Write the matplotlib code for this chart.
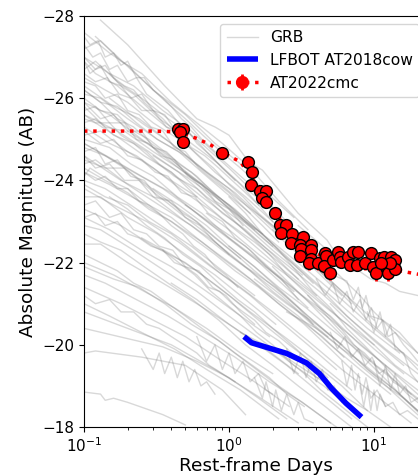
import numpy as np
import matplotlib
matplotlib.use("Agg")
import matplotlib.pyplot as plt

# ---------------- data ----------------
# GRB afterglow light curves (rest-frame days, absolute AB mag)
grb_times = [
    [0.13, 0.2, 0.36, 0.6, 0.8, 1.0, 1.37, 1.7, 3.0, 4.74, 6.0],
    [0.1, 0.15, 0.2, 0.3, 0.5, 0.8, 1.2],
    [0.1, 0.13, 0.18, 0.25, 0.4, 0.6, 0.9, 1.4, 2.2, 3.5],
    [0.1, 0.15, 0.22, 0.35, 0.55, 0.9, 1.5, 2.5],
    [0.1, 0.12, 0.17, 0.25, 0.38, 0.6, 1.0, 1.6, 3.0, 5.0, 8.0],
    [0.1, 0.14, 0.2, 0.3, 0.5, 0.8, 1.3, 2.0],
    [0.1, 0.16, 0.24, 0.4, 0.7, 1.1, 1.8, 3.0, 5.0],
    [0.1, 0.13, 0.2, 0.32, 0.5, 0.75, 1.2, 2.0, 3.5, 6.0, 10.0],
    [0.1, 0.15, 0.25, 0.4, 0.6, 1.0, 1.7],
    [0.1, 0.14, 0.19, 0.3, 0.45, 0.7, 1.1, 1.8, 3.0, 5.0, 9.0, 15.0],
    [0.1, 0.17, 0.28, 0.45, 0.7, 1.2, 2.0, 3.2],
    [0.1, 0.12, 0.18, 0.26, 0.4, 0.65, 1.0, 1.6, 2.6, 4.2, 7.0, 12.0, 20.0],
    [0.1, 0.15, 0.23, 0.36, 0.6, 0.95, 1.5, 2.4, 4.0],
    [0.1, 0.13, 0.2, 0.3, 0.5, 0.8, 1.3, 2.2, 3.6, 6.0, 10.0],
    [0.1, 0.16, 0.25, 0.4, 0.65, 1.0, 1.7, 2.8],
    [0.1, 0.14, 0.22, 0.35, 0.55, 0.9, 1.5, 2.5, 4.0, 7.0, 12.0, 20.0],
    [0.1, 0.18, 0.3, 0.5, 0.8, 1.3, 2.1, 3.5, 6.0],
    [0.1, 0.12, 0.2, 0.33, 0.55, 0.9, 1.4, 2.3, 3.8],
    [0.1, 0.15, 0.24, 0.4, 0.65, 1.1, 1.8, 3.0, 5.0, 8.0, 13.0],
    [0.1, 0.14, 0.21, 0.34, 0.55, 0.9, 1.5],
    [0.1, 0.16, 0.27, 0.45, 0.75, 1.2, 2.0, 3.5, 6.0, 10.0, 18.0],
    [0.1, 0.13, 0.2, 0.32, 0.5, 0.8, 1.3, 2.1],
    [0.1, 0.18, 0.3, 0.5, 0.85, 1.4, 2.4, 4.0, 7.0],
    [0.1, 0.15, 0.25, 0.4, 0.7, 1.1, 1.9],
    [0.1, 0.13, 0.22, 0.36, 0.6, 1.0, 1.7, 2.8, 4.5, 8.0],
    [0.1, 0.13, 0.2, 0.35, 0.6, 1.0, 1.8, 3.0],
    [0.1, 0.16, 0.26, 0.42, 0.7, 1.2, 2.0],
    [0.1, 0.14, 0.23, 0.38, 0.65, 1.1, 1.9, 3.2, 5.5],
    [0.1, 0.18, 0.3, 0.5, 0.9, 1.5, 2.6],
    [0.1, 0.15, 0.25, 0.42, 0.7, 1.2, 2.2],
    [0.1, 0.2, 0.4, 0.8, 1.5, 3.0],
    [0.1, 0.12, 0.25, 0.5, 0.9, 1.3],
    [0.1, 0.13, 0.14, 0.16, 0.2, 0.35, 0.5],
    [0.3, 0.5, 0.8, 1.2, 2.0, 3.5, 6.0, 10.0, 20.0],
    [0.5, 0.8, 1.3, 2.0, 3.2, 5.0, 8.0, 12.0, 20.0],
    [0.7, 1.0, 1.6, 2.5, 4.0, 6.5, 10.0, 16.0],
    [1.0, 1.5, 2.2, 3.4, 5.0, 7.5, 11.0, 20.0],
    [2.0, 3.0, 4.5, 6.5, 7.2, 7.8, 8.3, 8.8, 9.5, 11.5, 15.0, 20.0],
    [1.5, 2.5, 4.0, 6.0, 9.0, 14.0, 20.0],
    [3.0, 4.5, 6.5, 9.0, 13.0, 20.0],
    [0.25, 0.4, 0.6, 1.0, 1.6, 2.6, 4.0, 6.0, 9.0],
    [0.4, 0.6, 1.0, 1.6, 2.5, 4.0, 7.0],
    [1.2, 2.0, 3.0, 4.5, 6.5, 9.0, 13.0],
    [2.5, 4.0, 6.0, 8.0, 11.0, 15.0, 20.0],
    [5.0, 7.0, 10.0, 14.0, 20.0],
    [8.0, 10.0, 13.0, 16.0, 20.0],
    [0.2, 0.3, 0.45, 0.7, 1.1, 1.7, 2.7, 4.2, 6.5, 10.0, 16.0],
    [0.15, 0.25, 0.4, 0.65, 1.0, 1.6, 2.6, 4.0, 6.0],
    [0.1, 0.13, 0.17, 0.23, 0.32, 0.45, 0.65, 0.95, 1.4],
    [0.1, 0.12, 0.16, 0.22, 0.3, 0.42, 0.6, 0.9, 1.3, 2.0, 3.0],
    [0.1, 0.14, 0.19, 0.27, 0.38, 0.55, 0.8, 1.2],
    [0.1, 0.15, 0.21, 0.3, 0.44, 0.65, 1.0, 1.5, 2.3, 3.5],
    [0.1, 0.12, 0.17, 0.25, 0.37, 0.55, 0.85, 1.3, 2.0],
    [0.1, 0.14, 0.2, 0.28, 0.4, 0.6, 0.9, 1.4, 2.2, 3.5, 5.5],
    [0.1, 0.13, 0.18, 0.26, 0.38, 0.56, 0.85, 1.3, 2.0, 3.0, 4.6, 7.0],
    [0.1, 0.16, 0.24, 0.36, 0.55, 0.85, 1.3, 2.0, 3.2, 5.0],
    [0.1, 0.11, 0.15, 0.2, 0.28, 0.4, 0.6, 0.9, 1.4, 2.2, 3.3, 5.0, 8.0],
    [0.3, 0.45, 0.7, 1.0, 1.5, 2.3, 3.5, 5.5, 8.5, 13.0, 20.0],
    [1.5, 1.7, 1.8, 2.0, 2.1, 2.3, 2.5, 2.8, 3.0, 3.3, 3.8],
    [6.0, 6.5, 7.0, 7.4, 7.8, 8.3, 8.8, 9.5, 10.5, 12.0],
    [9.0, 10.0, 11.0, 12.0, 13.0, 14.0, 16.0, 18.0, 20.0],
    [0.1, 0.11, 0.13, 0.15, 0.18, 0.21, 0.25, 0.3, 0.36, 0.43, 0.5, 0.6, 0.75, 0.9, 1.1],
    [0.1, 0.12, 0.14, 0.17, 0.2, 0.24, 0.29, 0.35, 0.42, 0.5, 0.62, 0.78, 1.0, 1.3, 1.7, 2.2],
    [0.1, 0.12, 0.15, 0.19, 0.23, 0.28, 0.34, 0.42, 0.52, 0.65, 0.8, 1.0, 1.25],
    [0.1, 0.115, 0.13, 0.15, 0.17, 0.2, 0.23, 0.27, 0.32, 0.38, 0.45, 0.55, 0.7, 0.9, 1.2, 1.6],
    [0.1, 0.13, 0.16, 0.2, 0.25, 0.31, 0.38, 0.47, 0.58, 0.72, 0.9, 1.1, 1.4, 1.8, 2.3, 3.0],
    [0.1, 0.12, 0.14, 0.17, 0.21, 0.26, 0.32, 0.4, 0.5, 0.63, 0.8, 1.0],
    [0.1, 0.13, 0.17, 0.22, 0.28, 0.36, 0.46, 0.6, 0.78, 1.0, 1.3, 1.7, 2.2, 2.9, 3.8],
    [0.1, 0.12, 0.15, 0.18, 0.22, 0.27, 0.33, 0.41, 0.5, 0.62, 0.77, 0.95, 1.2, 1.5],
    [0.1, 0.12, 0.145, 0.175, 0.21, 0.25, 0.3, 0.37, 0.45, 0.55, 0.68, 0.85, 1.05, 1.3, 1.6, 2.0, 2.5],
    [0.1, 0.14, 0.2, 0.28, 0.4, 0.56, 0.8, 1.1, 1.6, 2.2, 3.1, 4.4, 6.2],
    [0.1, 0.11, 0.125, 0.14, 0.16, 0.18, 0.2, 0.23, 0.26, 0.3, 0.35, 0.4, 0.47, 0.55, 0.65, 0.8],
    [0.1, 0.13, 0.16, 0.2, 0.25, 0.3, 0.37, 0.45, 0.55, 0.68, 0.85, 1.05, 1.3, 1.6, 2.0],
    [0.1, 0.12, 0.15, 0.19, 0.24, 0.3, 0.38, 0.48, 0.6, 0.75, 0.95, 1.2, 1.5, 1.9, 2.4, 3.0, 3.8, 4.8],
    [0.1, 0.12, 0.14, 0.16, 0.19, 0.22, 0.26, 0.3, 0.35, 0.42, 0.5],
    [0.15, 0.18, 0.22, 0.27, 0.33, 0.4, 0.5, 0.62, 0.78, 1.0, 1.25, 1.6, 2.0, 2.6, 3.3, 4.2, 5.4, 7.0],
    [0.1, 0.12, 0.14, 0.17, 0.2, 0.24, 0.29, 0.35, 0.42, 0.5, 0.6, 0.72, 0.86, 1.05, 1.25, 1.5, 1.8, 2.2, 2.7, 3.3, 4.0],
    [0.1, 0.13, 0.17, 0.22, 0.29, 0.38, 0.5, 0.65, 0.85, 1.1, 1.45, 1.9, 2.5, 3.3],
    [0.1, 0.12, 0.15, 0.18, 0.22, 0.27, 0.33, 0.4, 0.49, 0.6, 0.73, 0.9, 1.1],
    [3.0, 3.8, 4.8, 6.0, 7.5, 9.5, 12.0, 15.0, 20.0],
    [4.0, 4.6, 5.2, 5.8, 6.5, 7.2, 8.0, 8.8, 9.6, 10.5, 11.5, 12.5, 14.0, 16.0, 18.0, 20.0],
    [0.6, 0.7, 0.8, 0.9, 1.0, 1.1, 1.25, 1.4, 1.6, 1.8, 2.0],
    [0.25, 0.3, 0.33, 0.36, 0.4, 0.44, 0.48, 0.53, 0.58, 0.64, 0.7, 0.8],
    [2.5, 2.8, 3.1, 3.4, 3.7, 4.0, 4.4, 4.8, 5.3, 6.0],
    [0.1, 0.2, 0.35, 0.6, 1.0, 1.6, 2.5],
    [8.0, 8.5, 9.0, 9.5, 10.0, 10.5, 11.0, 12.0, 13.5, 15.0, 17.0, 20.0],
    [1.0, 1.3, 1.7, 2.2, 2.9, 3.8, 5.0, 6.5, 8.5, 11.0, 14.0, 18.0],
    [0.5, 0.65, 0.85, 1.1, 1.45, 1.9, 2.5, 3.3, 4.3, 5.6, 7.3, 9.5],
    [0.1, 0.14, 0.19, 0.26, 0.36, 0.5, 0.7, 1.0, 1.4, 2.0, 2.8, 4.0, 5.6, 8.0, 11.0, 16.0, 20.0],
    [0.12, 0.16, 0.21, 0.28, 0.37, 0.5, 0.66, 0.88, 1.2, 1.6, 2.1, 2.8],
    [0.1, 0.13, 0.17, 0.22, 0.29, 0.38, 0.5, 0.66, 0.87, 1.15, 1.5],
    [3.5, 4.2, 5.0, 6.0, 7.2, 8.6, 10.3, 12.4, 15.0, 18.0, 21.0],
    [5.0, 5.6, 6.3, 7.0, 7.8, 8.7, 9.7, 10.8, 12.0, 13.5, 15.0, 17.0, 20.0],
    [2.0, 2.6, 3.4, 4.4, 5.7, 7.4, 9.6, 12.5, 16.0, 21.0],
    [10.0, 11.0, 12.0, 13.0, 14.0, 15.0, 16.5, 18.0, 20.0],
    [0.1, 0.12, 0.14, 0.17, 0.2, 0.24, 0.28, 0.33, 0.4, 0.48, 0.57, 0.68, 0.8, 0.95, 1.15],
    [0.1, 0.12, 0.15, 0.18, 0.22, 0.27, 0.33, 0.4, 0.49, 0.6],
    [0.35, 0.45, 0.58, 0.75, 0.95, 1.2, 1.55, 2.0, 2.6, 3.3, 4.3, 5.5, 7.0, 9.0],
    [0.15, 0.2, 0.27, 0.36, 0.48, 0.64, 0.85, 1.15, 1.5, 2.0, 2.7, 3.6, 4.8],
]
grb_mags = [
    [-27.9, -27.3, -26.3, -25.5, -25.3, -25.1, -24.45, -24.25, -23.2, -22.55, -22.0],
    [-27.6, -27.1, -26.8, -26.2, -25.6, -24.9, -24.4],
    [-27.2, -27.4, -26.9, -26.6, -25.9, -25.4, -24.9, -24.3, -23.5, -22.8],
    [-27.0, -26.6, -26.3, -25.7, -25.2, -24.5, -23.8, -23.0],
    [-26.7, -26.9, -26.4, -26.0, -25.5, -25.0, -24.3, -23.6, -22.6, -21.9, -21.2],
    [-26.5, -26.2, -25.9, -25.4, -24.9, -24.2, -23.6, -23.0],
    [-26.3, -25.8, -25.5, -24.9, -24.2, -23.7, -23.0, -22.3, -21.6],
    [-26.1, -26.0, -25.5, -25.0, -24.6, -24.1, -23.5, -22.9, -22.1, -21.3, -20.6],
    [-25.9, -25.6, -25.0, -24.5, -24.0, -23.4, -22.7],
    [-25.8, -25.3, -25.2, -24.7, -24.3, -23.8, -23.3, -22.6, -21.9, -21.2, -20.4, -19.8],
    [-25.6, -25.2, -24.7, -24.2, -23.6, -23.0, -22.3, -21.7],
    [-25.5, -25.4, -25.0, -24.6, -24.2, -23.6, -23.1, -22.5, -21.9, -21.3, -20.6, -19.9, -19.3],
    [-25.3, -24.9, -24.6, -24.1, -23.6, -23.0, -22.5, -21.9, -21.2],
    [-25.1, -25.2, -24.7, -24.3, -23.7, -23.2, -22.6, -21.9, -21.3, -20.6, -20.0],
    [-24.9, -24.5, -24.1, -23.7, -23.1, -22.6, -22.0, -21.3],
    [-24.8, -24.6, -24.2, -23.8, -23.3, -22.7, -22.1, -21.5, -20.9, -20.2, -19.5, -18.9],
    [-24.6, -24.0, -23.6, -23.0, -22.5, -21.9, -21.4, -20.7, -20.0],
    [-24.4, -24.5, -23.9, -23.4, -22.9, -22.3, -21.8, -21.2, -20.5],
    [-24.2, -23.9, -23.5, -23.0, -22.5, -21.9, -21.3, -20.7, -20.0, -19.4, -18.8],
    [-24.0, -23.8, -23.4, -22.9, -22.4, -21.8, -21.2],
    [-23.8, -23.4, -23.0, -22.5, -21.9, -21.4, -20.8, -20.1, -19.4, -18.8, -18.1],
    [-23.6, -23.6, -23.1, -22.7, -22.2, -21.7, -21.1, -20.5],
    [-23.3, -22.9, -22.4, -22.0, -21.4, -20.8, -20.2, -19.6, -18.9],
    [-23.1, -22.8, -22.3, -21.9, -21.3, -20.8, -20.2],
    [-22.9, -22.8, -22.3, -21.8, -21.3, -20.7, -20.1, -19.5, -19.0, -18.3],
    [-22.45, -22.45, -22.0, -21.5, -21.0, -20.5, -19.9, -19.3],
    [-22.0, -21.7, -21.3, -20.9, -20.4, -19.8, -19.3],
    [-21.7, -21.5, -21.1, -20.7, -20.2, -19.7, -19.1, -18.6, -18.0],
    [-21.4, -21.0, -20.6, -20.2, -19.6, -19.1, -18.5],
    [-21.0, -20.7, -20.3, -19.9, -19.4, -18.9, -18.2],
    [-20.8, -20.4, -20.0, -19.4, -18.8, -18.1],
    [-19.8, -19.85, -19.7, -19.5, -18.9, -18.3],
    [-18.85, -18.8, -18.65, -18.7, -18.6, -18.3, -18.05],
    [-24.6, -24.1, -23.6, -23.1, -22.5, -21.8, -21.1, -20.4, -19.5],
    [-23.4, -22.9, -22.4, -21.8, -21.2, -20.7, -20.0, -19.5, -18.8],
    [-23.2, -22.8, -22.2, -21.7, -21.1, -20.5, -19.9, -19.3],
    [-22.4, -21.9, -21.4, -20.9, -20.4, -19.9, -19.4, -18.7],
    [-22.8, -22.3, -21.8, -21.55, -21.1, -21.4, -20.9, -21.2, -20.7, -20.6, -20.3, -19.8],
    [-21.6, -21.0, -20.5, -20.0, -19.4, -18.9, -18.4],
    [-22.2, -21.7, -21.2, -20.6, -20.1, -19.4],
    [-22.6, -22.2, -21.8, -21.2, -20.6, -20.0, -19.5, -19.0, -18.4],
    [-21.5, -21.1, -20.5, -20.0, -19.5, -18.9, -18.2],
    [-20.3, -19.9, -19.5, -19.1, -18.7, -18.4, -18.0],
    [-20.8, -20.4, -19.9, -19.6, -19.2, -18.8, -18.4],
    [-21.0, -20.5, -20.0, -19.5, -19.1],
    [-21.2, -20.8, -20.4, -20.1, -19.8],
    [-25.2, -24.8, -24.3, -23.8, -23.2, -22.6, -22.0, -21.4, -20.7, -20.1, -19.5],
    [-26.0, -25.4, -24.9, -24.3, -23.8, -23.1, -22.4, -21.8, -21.2],
    [-26.2, -25.9, -25.8, -25.4, -25.0, -24.7, -24.2, -23.7, -23.2],
    [-25.4, -25.5, -25.1, -24.9, -24.5, -24.1, -23.8, -23.2, -22.8, -22.2, -21.6],
    [-24.5, -24.3, -24.3, -23.9, -23.5, -23.1, -22.6, -22.1],
    [-25.0, -24.8, -24.4, -24.1, -23.6, -23.2, -22.6, -22.1, -21.5, -20.9],
    [-26.9, -26.6, -26.3, -25.8, -25.3, -24.9, -24.4, -23.8, -23.3],
    [-23.9, -23.6, -23.4, -23.0, -22.7, -22.2, -21.7, -21.2, -20.6, -20.0, -19.4],
    [-22.7, -22.5, -22.3, -21.9, -21.5, -21.1, -20.6, -20.0, -19.5, -19.0, -18.5, -18.0],
    [-21.9, -21.6, -21.4, -21.0, -20.5, -20.1, -19.6, -19.1, -18.6, -18.1],
    [-24.1, -24.3, -24.0, -23.8, -23.4, -23.1, -22.6, -22.1, -21.6, -21.0, -20.5, -19.9, -19.2],
    [-23.8, -23.4, -22.9, -22.4, -21.9, -21.3, -20.7, -20.1, -19.5, -18.9, -18.3],
    [-19.2, -18.7, -19.1, -18.5, -18.9, -18.4, -18.8, -18.3, -18.6, -18.2, -18.1],
    [-19.6, -19.0, -19.5, -18.9, -19.3, -18.8, -19.2, -18.7, -18.9, -18.5],
    [-20.8, -20.3, -20.8, -20.2, -20.5, -19.9, -19.8, -19.3, -19.1],
    [-26.9, -26.6, -26.8, -26.4, -26.3, -26.0, -26.1, -25.7, -25.6, -25.2, -25.3, -24.9, -24.6, -24.3, -24.0],
    [-26.4, -26.3, -26.0, -26.1, -25.7, -25.6, -25.3, -25.2, -24.8, -24.7, -24.3, -24.0, -23.7, -23.3, -22.9, -22.5],
    [-25.7, -25.8, -25.4, -25.4, -25.0, -24.9, -24.6, -24.5, -24.1, -23.9, -23.5, -23.3, -22.9],
    [-27.3, -27.0, -27.1, -26.7, -26.8, -26.4, -26.5, -26.1, -25.9, -25.7, -25.4, -25.1, -24.7, -24.3, -23.9, -23.4],
    [-25.2, -24.9, -25.0, -24.6, -24.5, -24.2, -24.1, -23.7, -23.6, -23.2, -23.0, -22.6, -22.3, -21.9, -21.6, -21.1],
    [-24.7, -24.8, -24.4, -24.5, -24.1, -24.0, -23.6, -23.5, -23.1, -22.9, -22.5, -22.2],
    [-26.0, -25.7, -25.6, -25.2, -25.0, -24.7, -24.4, -24.1, -23.7, -23.4, -23.0, -22.7, -22.3, -21.9, -21.5],
    [-23.4, -23.5, -23.1, -23.2, -22.8, -22.7, -22.4, -22.3, -21.9, -21.8, -21.4, -21.2, -20.8, -20.5],
    [-26.6, -26.4, -26.5, -26.1, -26.0, -25.7, -25.7, -25.3, -25.2, -24.8, -24.6, -24.3, -24.0, -23.7, -23.4, -23.0, -22.7],
    [-24.3, -24.0, -23.7, -23.3, -23.0, -22.6, -22.2, -21.8, -21.4, -21.0, -20.6, -20.2, -19.7],
    [-27.5, -27.3, -27.4, -27.0, -27.1, -26.8, -26.9, -26.5, -26.5, -26.2, -26.0, -25.8, -25.5, -25.3, -25.0, -24.7],
    [-25.9, -25.5, -25.6, -25.2, -25.2, -24.8, -24.7, -24.4, -24.2, -23.9, -23.6, -23.3, -23.0, -22.7, -22.4],
    [-24.6, -24.3, -24.4, -24.0, -24.0, -23.6, -23.5, -23.2, -23.0, -22.7, -22.4, -22.1, -21.8, -21.5, -21.2, -20.9, -20.5, -20.2],
    [-27.0, -26.7, -26.8, -26.5, -26.3, -26.2, -25.9, -25.7, -25.5, -25.2, -24.9],
    [-26.6, -26.3, -26.1, -25.8, -25.5, -25.3, -24.9, -24.6, -24.3, -23.9, -23.6, -23.2, -22.9, -22.5, -22.1, -21.8, -21.4, -21.0],
    [-23.1, -23.2, -22.9, -23.0, -22.7, -22.6, -22.4, -22.3, -22.0, -21.9, -21.7, -21.4, -21.3, -21.0, -20.8, -20.6, -20.3, -20.1, -19.8, -19.5, -19.2],
    [-22.2, -22.0, -21.8, -21.5, -21.3, -21.0, -20.7, -20.4, -20.1, -19.8, -19.5, -19.2, -18.8, -18.5],
    [-21.2, -21.0, -21.1, -20.8, -20.8, -20.5, -20.4, -20.2, -20.0, -19.8, -19.5, -19.3, -19.1],
    [-22.9, -22.6, -22.3, -22.0, -21.85, -21.6, -21.5, -21.3, -21.2],
    [-21.6, -21.2, -21.5, -21.0, -21.3, -20.8, -21.1, -20.6, -20.9, -20.4, -20.6, -20.2, -20.3, -20.0, -19.8, -19.6],
    [-20.2, -19.6, -20.0, -19.4, -19.8, -19.3, -19.6, -19.1, -19.3, -18.9, -18.8],
    [-19.9, -19.4, -19.8, -19.3, -19.7, -19.2, -19.6, -19.1, -19.4, -19.0, -19.1, -18.8],
    [-19.9, -19.3, -19.8, -19.2, -19.6, -19.1, -19.4, -18.9, -19.0, -18.6],
    [-20.4, -20.15, -19.95, -19.6, -19.2, -18.7, -18.2],
    [-19.0, -18.5, -19.0, -18.4, -18.9, -18.4, -18.8, -18.5, -18.6, -18.3, -18.4, -18.2],
    [-23.6, -23.2, -22.7, -22.3, -21.8, -21.3, -20.9, -20.4, -20.0, -19.6, -19.2, -18.8],
    [-24.2, -23.8, -23.4, -23.0, -22.6, -22.2, -21.7, -21.3, -20.9, -20.5, -20.0, -19.6],
    [-24.9, -24.6, -24.3, -23.9, -23.5, -23.1, -22.7, -22.2, -21.8, -21.3, -20.9, -20.4, -20.0, -19.5, -19.1, -18.7, -18.4],
    [-27.5, -27.1, -26.7, -26.3, -25.9, -25.5, -25.1, -24.7, -24.3, -23.9, -23.5, -23.1],
    [-26.2, -25.9, -25.5, -25.3, -24.9, -24.6, -24.2, -23.9, -23.5, -23.1, -22.8],
    [-21.2, -20.9, -20.6, -20.3, -20.0, -19.8, -19.5, -19.3, -19.0, -18.8, -18.6],
    [-20.3, -19.9, -20.2, -19.7, -19.9, -19.5, -19.7, -19.3, -19.4, -19.1, -19.0, -18.8, -18.6],
    [-21.9, -21.5, -21.1, -20.7, -20.3, -19.9, -19.5, -19.1, -18.7, -18.3],
    [-19.6, -19.0, -19.5, -18.9, -19.3, -18.8, -19.0, -18.6, -18.7],
    [-24.2, -24.0, -24.1, -23.8, -23.8, -23.5, -23.4, -23.2, -22.9, -22.7, -22.4, -22.2, -21.9, -21.7, -21.4],
    [-25.6, -25.4, -25.4, -25.1, -24.9, -24.7, -24.4, -24.2, -23.9, -23.6],
    [-22.3, -22.0, -21.7, -21.3, -21.0, -20.7, -20.3, -20.0, -19.6, -19.3, -18.9, -18.6, -18.3, -18.0],
    [-23.6, -23.3, -22.9, -22.6, -22.2, -21.9, -21.5, -21.1, -20.8, -20.4, -20.0, -19.6, -19.2],
]

# LFBOT AT2018cow
cow_t = [1.27, 1.43, 2.5, 3.42, 4.2, 5.1, 6.4, 8.2]
cow_m = [-20.2, -20.05, -19.79, -19.56, -19.3, -18.94, -18.58, -18.24]

# AT2022cmc photometry
cmc_t = [0.447, 0.483, 0.46, 0.478, 0.90, 1.36, 1.43, 1.41, 1.64, 1.80, 1.68, 1.80,
         2.07, 2.25, 2.49, 2.27, 2.72, 3.22, 2.68, 3.07, 3.70, 3.14, 3.70, 3.07,
         3.70, 3.57, 4.14, 4.58, 4.64, 4.50, 4.99, 5.2, 5.65, 5.8, 5.94, 6.6, 6.8,
         7.2, 7.8, 7.6, 8.7, 9.6, 9.9, 10.4, 11.0, 11.8, 12.2, 12.5, 13.2, 13.9,
         13.9, 12.9, 11.2]
cmc_m = [-25.24, -25.25, -25.18, -24.94, -24.66, -24.44, -24.21, -23.89, -23.75,
         -23.75, -23.58, -23.48, -23.21, -22.91, -22.91, -22.73, -22.70, -22.62,
         -22.47, -22.43, -22.43, -22.32, -22.31, -22.16, -22.08, -22.0, -21.98,
         -22.24, -22.16, -21.92, -21.75, -22.06, -22.27, -22.14, -22.02, -22.14,
         -21.94, -22.27, -22.27, -21.94, -21.98, -22.23, -21.9, -21.74, -22.1,
         -22.14, -21.86, -21.74, -22.14, -22.06, -21.84, -21.98, -21.98]
cmc_err = [0.08, 0.08, 0.08, 0.1, 0.08, 0.1, 0.1, 0.15, 0.1, 0.1, 0.12, 0.12,
           0.1, 0.12, 0.12, 0.15, 0.12, 0.12, 0.15, 0.15, 0.12, 0.15, 0.12, 0.15,
           0.15, 0.18, 0.15, 0.15, 0.12, 0.18, 0.18, 0.15, 0.12, 0.15, 0.15, 0.12,
           0.15, 0.12, 0.12, 0.15, 0.15, 0.12, 0.15, 0.18, 0.15, 0.12, 0.15, 0.18,
           0.12, 0.12, 0.15, 0.15, 0.15]

# AT2022cmc model curve
model_t = [0.1, 0.2, 0.3, 0.45, 0.6, 0.75, 0.9, 1.2, 1.5, 2.0, 2.5, 3.0, 4.0,
           5.0, 7.0, 10.0, 15.0, 20.0, 25.0]
model_m = [-25.2, -25.2, -25.2, -25.18, -25.02, -24.86, -24.68, -24.45, -23.97,
           -23.3, -22.85, -22.55, -22.22, -22.07, -21.96, -21.9, -21.8, -21.72, -21.68]

xlabel = "Rest-frame Days"
ylabel = "Absolute Magnitude (AB)"
yticks = [-28, -26, -24, -22, -20, -18]

# ---------------- plot ----------------
W, H, DPI = 418, 476, 100
fig = plt.figure(figsize=(W / DPI, H / DPI), dpi=DPI)
ax_left, ax_right, ax_top, ax_bot = 84, 427, 16, 427
ax = fig.add_axes([ax_left / W, 1 - ax_bot / H, (ax_right - ax_left) / W,
                   (ax_bot - ax_top) / H])

for i, (t, m) in enumerate(zip(grb_times, grb_mags)):
    ax.plot(t, m, color='grey', alpha=0.3, lw=1.0,
            label='GRB' if i == 0 else None, zorder=1)

ax.plot(cow_t, cow_m, color='blue', lw=4, label='LFBOT AT2018cow', zorder=3,
        solid_capstyle='butt')

ax.plot(model_t, model_m, color='red', ls=':', lw=2.5, zorder=2)
ax.errorbar(cmc_t, cmc_m, yerr=cmc_err, fmt='o', color='red', ecolor='red',
            mfc='red', mec='black', mew=1.0, ms=8.5, elinewidth=2, zorder=4)
proxy = ax.errorbar([np.nan], [np.nan], yerr=[np.nan], fmt='o', ls=':',
                    color='red', ecolor='red', mfc='red', mec='red', ms=8.5,
                    lw=2.5, elinewidth=2, label='AT2022cmc')

ax.set_xscale('log')
ax.set_xlim(0.1, 23.2)
ax.set_ylim(-18, -28)
ax.set_yticks(yticks)
ax.tick_params(axis='both', labelsize=11)
ax.set_xlabel(xlabel, fontsize=13.3, labelpad=1)
ax.set_ylabel(ylabel, fontsize=13.3)

ax.legend(loc='upper right', fontsize=11.2)

fig.savefig('out.png', dpi=DPI)
